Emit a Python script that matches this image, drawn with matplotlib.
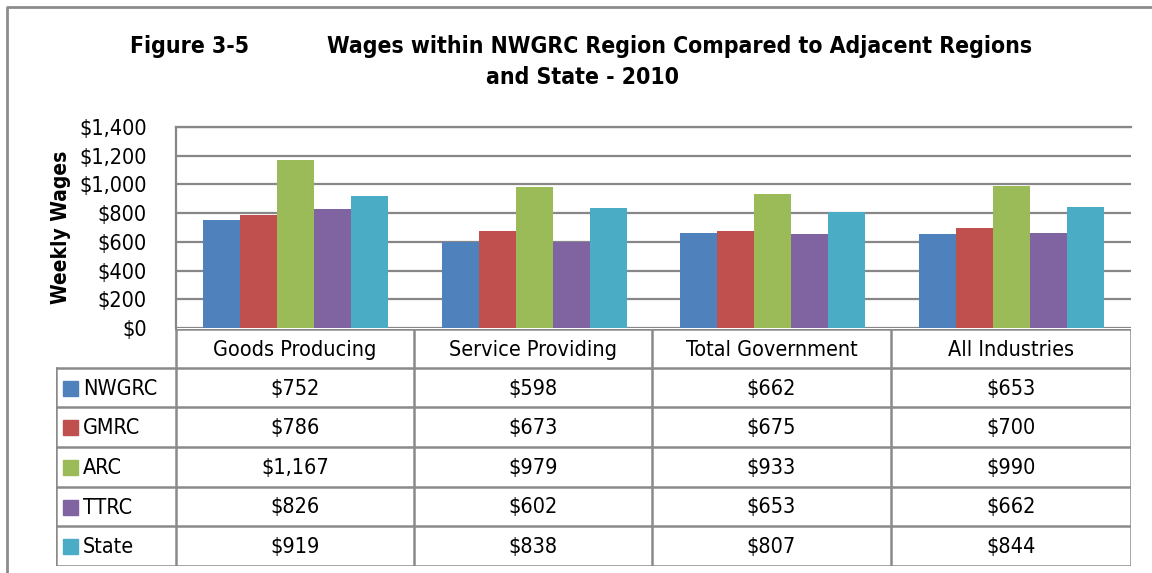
import matplotlib
matplotlib.use("Agg")
import matplotlib.pyplot as plt
from matplotlib.patches import Rectangle
import numpy as np

plt.rcParams['font.family'] = ['DejaVu Sans']
plt.rcParams['font.stretch'] = 'condensed'

categories = ["Goods Producing", "Service Providing", "Total Government", "All Industries"]
series_names = ["NWGRC", "GMRC", "ARC", "TTRC", "State"]
nwgrc = [752, 598, 662, 653]
gmrc = [786, 673, 675, 700]
arc = [1167, 979, 933, 990]
ttrc = [826, 602, 653, 662]
state = [919, 838, 807, 844]
series_values = [nwgrc, gmrc, arc, ttrc, state]
colors = ["#4F81BD", "#C0504D", "#9BBB59", "#8064A2", "#4BACC6"]
yticks = [0, 200, 400, 600, 800, 1000, 1200, 1400]

W, H = 1152, 573
fig = plt.figure(figsize=(W / 100, H / 100), dpi=100)

def fr(x0, y0, x1, y1):
    return [x0 / W, 1 - y1 / H, (x1 - x0) / W, (y1 - y0) / H]

grid_c = "#878787"
body_fs = 15.5
title_fs = 16.5

# outer border
border = fig.add_axes([0, 0, 1, 1])
border.set_xlim(0, W); border.set_ylim(H, 0); border.axis("off")
border.plot([7, 7, W + 5], [H + 5, 7, 7], color="#8c8c8c", lw=2)

# titles
fig.text(190 / W, 1 - 46 / H, "Figure 3-5", ha="center", va="center",
         fontsize=title_fs, fontweight="bold")
fig.text(680 / W, 1 - 46 / H, "Wages within NWGRC Region Compared to Adjacent Regions",
         ha="center", va="center", fontsize=title_fs, fontweight="bold")
fig.text(583 / W, 1 - 78 / H, "and State - 2010", ha="center", va="center",
         fontsize=title_fs, fontweight="bold")

# bar chart
ax = fig.add_axes(fr(176, 127, 1131, 328))
x = np.arange(len(categories))
bw = 0.155
for i, (name, vals, c) in enumerate(zip(series_names, series_values, colors)):
    ax.bar(x + (i - 2) * bw, vals, width=bw, color=c, zorder=3, label=name)
ax.set_xlim(-0.5, len(categories) - 0.5)
ax.set_ylim(0, 1400)
ax.set_yticks(yticks)
ax.set_yticklabels([f"${v:,}" for v in yticks], fontsize=body_fs)
ax.set_xticks([])
ax.yaxis.grid(True, color=grid_c, lw=1.6, zorder=0)
ax.tick_params(axis="y", length=0, pad=21)
for s in ["right", "bottom"]:
    ax.spines[s].set_visible(False)
ax.spines["top"].set_color(grid_c); ax.spines["top"].set_linewidth(1.6)
ax.spines["left"].set_color(grid_c); ax.spines["left"].set_linewidth(1.6)
ax.set_ylabel("Weekly Wages", fontsize=15, fontweight="bold", labelpad=6)

# data table
tx0, ty0, tx1, ty1 = 56, 329, 1131, 566
tab = fig.add_axes(fr(tx0, ty0, tx1, ty1))
tab.set_xlim(tx0, tx1); tab.set_ylim(ty1, ty0); tab.axis("off")
col_x = [176, 414, 652, 891, 1131]
row_y = [329, 368, 407, 447, 487, 526, 566]
lc = "#8a8a8a"
lw = 1.8
tab.plot([col_x[0], col_x[-1]], [row_y[0], row_y[0]], color=lc, lw=lw)
for yy in row_y[1:]:
    tab.plot([tx0, col_x[-1]], [yy, yy], color=lc, lw=lw)
for xx in col_x:
    tab.plot([xx, xx], [row_y[0], row_y[-1]], color=lc, lw=lw)
tab.plot([tx0, tx0], [row_y[1], row_y[-1]], color=lc, lw=lw)
for j, cat in enumerate(categories):
    tab.text((col_x[j] + col_x[j + 1]) / 2, (row_y[0] + row_y[1]) / 2 + 1, cat,
             ha="center", va="center", fontsize=body_fs)
for i, (name, vals, c) in enumerate(zip(series_names, series_values, colors)):
    yc = (row_y[i + 1] + row_y[i + 2]) / 2 + 1
    tab.add_patch(Rectangle((63, yc - 8), 15, 15, color=c))
    tab.text(83, yc, name, ha="left", va="center", fontsize=body_fs)
    for j, v in enumerate(vals):
        tab.text((col_x[j] + col_x[j + 1]) / 2, yc, f"${v:,}",
                 ha="center", va="center", fontsize=body_fs)

fig.savefig("out.png", dpi=100)
